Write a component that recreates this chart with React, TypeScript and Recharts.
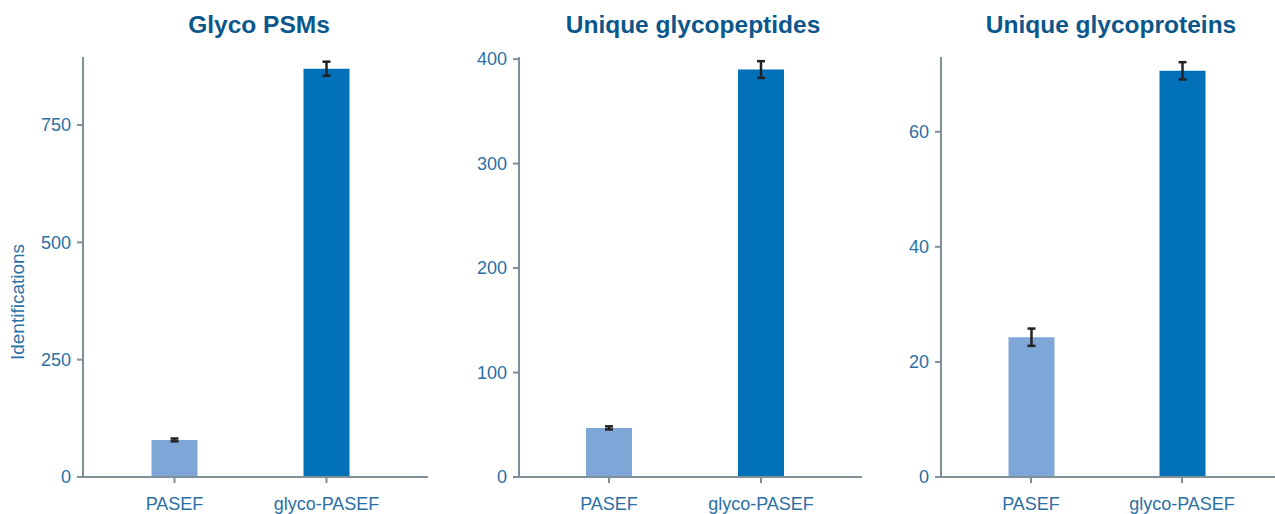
import React from "react";
import { BarChart, Bar, XAxis, YAxis, ErrorBar, Cell } from "recharts";

const groups = ["PASEF", "glyco-PASEF"];

const psmMeans = [79, 870];
const psmErrors = [3, 15];
const psmTicks = [0, 250, 500, 750];

const peptideMeans = [47, 390];
const peptideErrors = [1.5, 8];
const peptideTicks = [0, 100, 200, 300, 400];

const proteinMeans = [24.3, 70.6];
const proteinErrors = [1.5, 1.5];
const proteinTicks = [0, 20, 40, 60];

const barColors = ["#7ea7d8", "#0070b9"];
const axisColor = "#7f8f9a";
const tickColor = "#2b70a5";
const titleColor = "#0b578b";
const font = "'Liberation Sans', Arial, sans-serif";

const toRows = (means: number[], errors: number[]) =>
  groups.map((g, i) => ({ group: g, value: means[i], err: errors[i] }));

interface PanelProps {
  title: string;
  left: number;
  width: number;
  axisWidth: number;
  pad: { left: number; right: number };
  domainMax: number;
  ticks: number[];
  means: number[];
  errors: number[];
  titleX: number;
}

function Panel({ title, left, width, axisWidth, pad, domainMax, ticks, means, errors, titleX }: PanelProps) {
  const data = toRows(means, errors);
  return (
    <div style={{ position: "absolute", left, top: 0, width, height: 514 }}>
      <div
        style={{
          position: "absolute",
          left: titleX - left - 200,
          width: 400,
          top: 11,
          textAlign: "center",
          fontFamily: font,
          fontWeight: 700,
          fontSize: 24.5,
          color: titleColor,
        }}
      >
        {title}
      </div>
      <BarChart
        width={width}
        height={514}
        data={data}
        margin={{ top: 57, right: 0, bottom: 7, left: 0 }}
      >
        <XAxis
          dataKey="group"
          padding={pad}
          axisLine={{ stroke: axisColor, strokeWidth: 2 }}
          tickLine={{ stroke: axisColor, strokeWidth: 2 }}
          tickSize={6}
          tickMargin={14}
          height={30}
          tick={{ fill: tickColor, fontSize: 18, fontFamily: font }}
        />
        <YAxis
          width={axisWidth}
          domain={[0, domainMax]}
          ticks={ticks}
          allowDataOverflow
          axisLine={{ stroke: axisColor, strokeWidth: 2 }}
          tickLine={{ stroke: axisColor, strokeWidth: 2 }}
          tickSize={6}
          tickMargin={6}
          tick={{ fill: tickColor, fontSize: 18, fontFamily: font }}
        />
        <Bar dataKey="value" barSize={46} isAnimationActive={false}>
          {data.map((d, i) => (
            <Cell key={d.group} fill={barColors[i]} />
          ))}
          <ErrorBar dataKey="err" direction="y" width={4} stroke="#222" strokeWidth={2.5} />
        </Bar>
      </BarChart>
    </div>
  );
}

export default function App() {
  return (
    <div style={{ position: "absolute", left: 0, top: 0, width: 1275, height: 514, background: "#fff" }}>
      <div
        style={{
          position: "absolute",
          left: 18 - 100,
          top: 302 - 12,
          width: 200,
          height: 24,
          lineHeight: "24px",
          textAlign: "center",
          transform: "rotate(-90deg)",
          fontFamily: font,
          fontSize: 19,
          color: tickColor,
        }}
      >
        Identifications
      </div>
      <Panel
        title="Glyco PSMs"
        left={0}
        width={428}
        axisWidth={83}
        pad={{ left: 15.5, right: 25.5 }}
        domainMax={895}
        ticks={psmTicks}
        means={psmMeans}
        errors={psmErrors}
        titleX={259}
      />
      <Panel
        title="Unique glycopeptides"
        left={430}
        width={432}
        axisWidth={89}
        pad={{ left: 14, right: 25 }}
        domainMax={402}
        ticks={peptideTicks}
        means={peptideMeans}
        errors={peptideErrors}
        titleX={693}
      />
      <Panel
        title="Unique glycoproteins"
        left={860}
        width={415}
        axisWidth={81}
        pad={{ left: 14.5, right: 17.5 }}
        domainMax={73}
        ticks={proteinTicks}
        means={proteinMeans}
        errors={proteinErrors}
        titleX={1111}
      />
    </div>
  );
}
